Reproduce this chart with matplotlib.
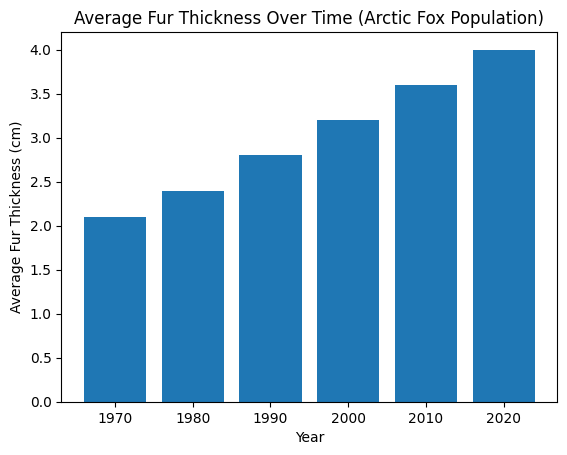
import matplotlib
matplotlib.use("Agg")
import matplotlib.pyplot as plt

# Data
years = ["1970", "1980", "1990", "2000", "2010", "2020"]
fur_thickness = [2.1, 2.4, 2.8, 3.2, 3.6, 4.0]

plt.figure(figsize=(6.4, 4.8))
plt.bar(years, fur_thickness, color="#1f77b4")
plt.title("Average Fur Thickness Over Time (Arctic Fox Population)")
plt.xlabel("Year")
plt.ylabel("Average Fur Thickness (cm)")
plt.savefig("out.png", dpi=100, bbox_inches="tight")
